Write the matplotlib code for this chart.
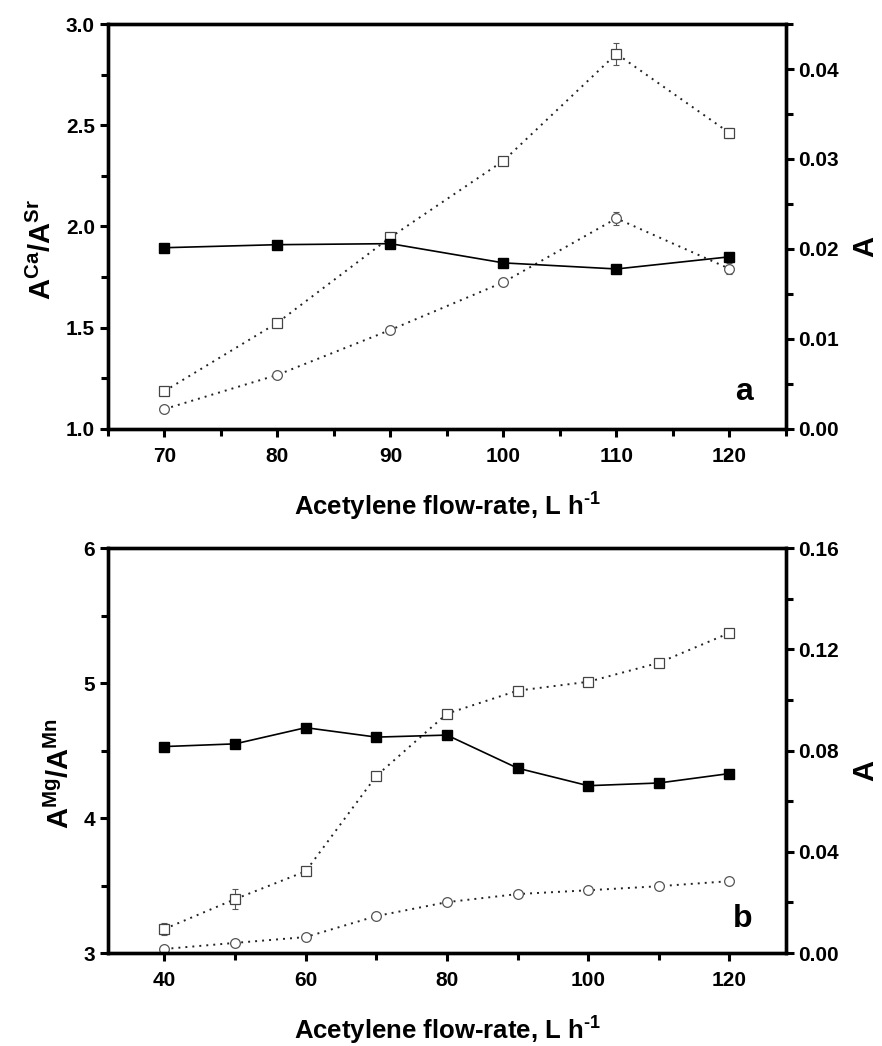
import matplotlib
matplotlib.use("Agg")
import matplotlib.pyplot as plt
import numpy as np
from matplotlib.ticker import MultipleLocator, FormatStrFormatter

plt.rcParams['font.family'] = ['Liberation Sans', 'DejaVu Sans']
plt.rcParams['font.weight'] = 'bold'
plt.rcParams['mathtext.fontset'] = 'custom'
plt.rcParams['mathtext.rm'] = 'Liberation Sans:bold'
plt.rcParams['mathtext.bf'] = 'Liberation Sans:bold'
plt.rcParams['mathtext.it'] = 'Liberation Sans:bold'

# ---- panel a data ----
flow_a = [70, 80, 90, 100, 110, 120]
ratio_ca_sr = [1.895, 1.91, 1.915, 1.82, 1.79, 1.85]
abs_ca = [0.0042, 0.0118, 0.0213, 0.0298, 0.0417, 0.0329]
abs_ca_err = [0.0004, 0.0003, 0.0003, 0.0003, 0.0012, 0.0006]
abs_sr = [0.0022, 0.0060, 0.0110, 0.0163, 0.0234, 0.0178]
abs_sr_err = [0.0003, 0.0003, 0.0003, 0.0003, 0.0007, 0.0006]

# ---- panel b data ----
flow_b = [40, 50, 60, 70, 80, 90, 100, 110, 120]
ratio_mg_mn = [4.53, 4.55, 4.67, 4.60, 4.615, 4.37, 4.24, 4.26, 4.33]
abs_mg = [0.0095, 0.0213, 0.0323, 0.0700, 0.0946, 0.1037, 0.1072, 0.1147, 0.1265]
abs_mg_err = [0.0022, 0.0039, 0.0015, 0.0012, 0.0012, 0.0012, 0.0015, 0.0012, 0.0010]
abs_mn = [0.0016, 0.0040, 0.0063, 0.0146, 0.0201, 0.0233, 0.0248, 0.0264, 0.0284]
abs_mn_err = [0.0008, 0.0008, 0.0008, 0.0008, 0.0008, 0.0008, 0.0008, 0.0008, 0.0008]

fig = plt.figure(figsize=(8.82, 10.46), dpi=100)

SP_LW = 2.4
TICK_FS = 15
LABEL_FS = 18.5
XLABEL = 'Acetylene flow-rate, L h$^{\u2010\\mathregular{1}}$'


def style_axes(ax, ax2):
    for s in ax.spines.values():
        s.set_linewidth(SP_LW)
    for s in ax2.spines.values():
        s.set_linewidth(SP_LW)
    ax.tick_params(axis='both', which='major', direction='out', length=6, width=2.2,
                   labelsize=TICK_FS, top=False, right=False)
    ax.tick_params(axis='x', which='major', pad=7)
    ax.tick_params(axis='both', which='minor', direction='out', length=5, width=2.2,
                   top=False, right=False)
    ax2.tick_params(axis='y', which='major', direction='out', length=6, width=2.2,
                    labelsize=TICK_FS, pad=3)
    ax2.tick_params(axis='y', which='minor', direction='out', length=5, width=2.2)
    for lab in ax.get_xticklabels() + ax.get_yticklabels() + ax2.get_yticklabels():
        lab.set_fontweight('bold')


def draw_panel(rect, x, ratio, a1, e1, a2, e2, xlim, ylim, y2lim, xmaj, xmin,
               ymaj, ymin, y2maj, y2min, yfmt, y2fmt, ylabel, tag, tag_y):
    ax = fig.add_axes(rect)
    ax2 = ax.twinx()
    ax.set_zorder(ax2.get_zorder() + 1)
    ax.patch.set_visible(False)

    dots = (0, (1, 2.6))
    # absorbance series (right axis)
    ax2.errorbar(x, a1, yerr=e1, fmt='none', ecolor='#555555', elinewidth=0.8,
                 capsize=2.5, capthick=0.8)
    ax2.plot(x, a1, linestyle=dots, color='#222222', lw=1.4,
             marker='s', markersize=7, markerfacecolor='white',
             markeredgecolor='#444444', markeredgewidth=0.9)
    ax2.errorbar(x, a2, yerr=e2, fmt='none', ecolor='#555555', elinewidth=0.8,
                 capsize=2.5, capthick=0.8)
    ax2.plot(x, a2, linestyle=dots, color='#222222', lw=1.4,
             marker='o', markersize=7, markerfacecolor='white',
             markeredgecolor='#555555', markeredgewidth=0.9)

    # ratio series (left axis)
    ax.plot(x, ratio, '-', color='black', lw=1.2, marker='s', markersize=7.5,
            markerfacecolor='black', markeredgecolor='black')

    ax.set_xlim(*xlim)
    ax.set_ylim(*ylim)
    ax2.set_ylim(*y2lim)
    ax.xaxis.set_major_locator(MultipleLocator(xmaj))
    ax.xaxis.set_minor_locator(MultipleLocator(xmin))
    ax.yaxis.set_major_locator(MultipleLocator(ymaj))
    ax.yaxis.set_minor_locator(MultipleLocator(ymin))
    ax2.yaxis.set_major_locator(MultipleLocator(y2maj))
    ax2.yaxis.set_minor_locator(MultipleLocator(y2min))
    ax.yaxis.set_major_formatter(FormatStrFormatter(yfmt))
    ax2.yaxis.set_major_formatter(FormatStrFormatter(y2fmt))

    ax.set_xlabel(XLABEL, fontsize=LABEL_FS, fontweight='bold', labelpad=18)
    ax.set_ylabel(ylabel, fontsize=21, fontweight='bold', labelpad=6)
    ax2.set_ylabel('A', fontsize=21, fontweight='bold', labelpad=9)
    ax.yaxis.label.set_y(0.443)
    ax2.yaxis.label.set_y(0.45)
    ax.text(0.951, tag_y, tag, transform=ax.transAxes, fontsize=23,
            fontweight='bold', ha='right', va='baseline')
    style_axes(ax, ax2)
    return ax, ax2


draw_panel([0.1224, 0.590, 0.7687, 0.387], flow_a, ratio_ca_sr, abs_ca, abs_ca_err,
           abs_sr, abs_sr_err, (65, 125), (1.0, 3.0), (0.0, 0.045), 10, 5,
           0.5, 0.25, 0.01, 0.005, '%.1f', '%.2f',
           r'$\mathregular{A^{Ca}/A^{Sr}}$', 'a', 0.072)

draw_panel([0.1224, 0.0889, 0.7687, 0.387], flow_b, ratio_mg_mn, abs_mg, abs_mg_err,
           abs_mn, abs_mn_err, (32, 128), (3.0, 6.0), (0.0, 0.16), 20, 10,
           1, 0.5, 0.04, 0.02, '%d', '%.2f',
           r'$\mathregular{A^{Mg}/A^{Mn}}$', 'b', 0.064)

fig.savefig('out.png', dpi=100)
